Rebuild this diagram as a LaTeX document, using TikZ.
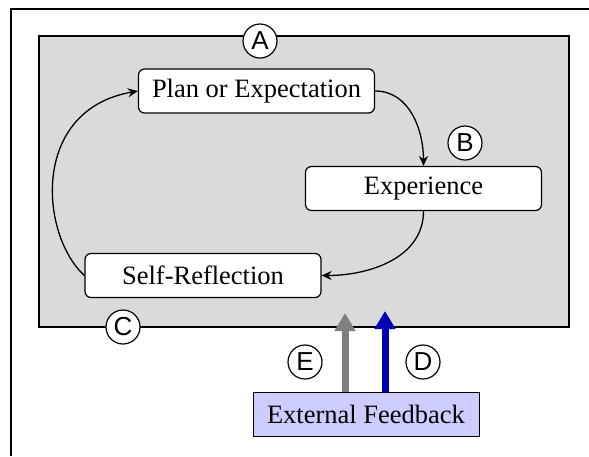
\documentclass[tikz,border=0pt]{standalone}
\usepackage{fontspec}
\setmainfont{Liberation Serif}
\newfontfamily\lettersf{Liberation Sans}
\usetikzlibrary{arrows.meta}

\definecolor{panelgray}{RGB}{218,218,218}
\definecolor{feedblue}{RGB}{204,204,255}
\definecolor{darkblue}{RGB}{0,0,178}
\definecolor{arrowgray}{RGB}{128,128,128}

\begin{document}
\begin{tikzpicture}[x=1pt,y=-1pt,
    stage/.style={draw,line width=1.2pt,rounded corners=6pt,fill=white,
      minimum width=236pt,minimum height=44pt,inner sep=0pt,
      font=\fontsize{26.5}{30}\selectfont},
    tag/.style={draw,circle,line width=1.2pt,fill=white,minimum size=34pt,
      inner sep=0pt,font=\lettersf\fontsize{26}{28}\selectfont},
    flow/.style={line width=1.3pt,-{Stealth[length=10pt,width=9pt]}},
    bigarrow/.style={line width=7pt,-{Triangle[length=18pt,width=20pt]}}]
    \useasboundingbox (0,0) rectangle (589,456);

    % Rahmen
    \draw[line width=2pt] (589,9) -- (11,9) -- (11,456);

    % grauer Bereich
    \draw[line width=2pt,fill=panelgray] (39,36) rectangle (569,327);

    % Stationen
    \node[stage] (plan) at (256.5,91) {Plan or Expectation};
    \node[stage] (exp) at (423.5,188.5) {Experience};
    \node[stage] (selfref) at (203,275.5) {Self-Reflection};
    \node[stage,sharp corners,line width=1pt,fill=feedblue,minimum width=226pt] (feedback) at (366,414.5) {External Feedback};

    % Kreislauf
    \draw[flow] (plan.east) to[out=0,in=90] (exp.north);
    \draw[flow] (exp.south) to[out=-90,in=0] (selfref.east);
    \draw[flow] (selfref.west) .. controls (40,235) and (30,110) .. (plan.west);

    % Rueckmeldung
    \coordinate (etip) at (345,313);
    \coordinate (dtip) at (385,311);
    \draw[bigarrow,arrowgray] (feedback.north -| etip) -- (etip);
    \draw[bigarrow,darkblue] (feedback.north -| dtip) -- (dtip);

    % Markierungen
    \node[tag] (A) at (260,41) {A};
    \node[tag] (B) at (465,143) {B};
    \node[tag] (C) at (123,327) {C};
    \node[tag] (E) at (305,362) {E};
    \node[tag] (D) at (423,362) {D};
  \end{tikzpicture}
\end{document}
